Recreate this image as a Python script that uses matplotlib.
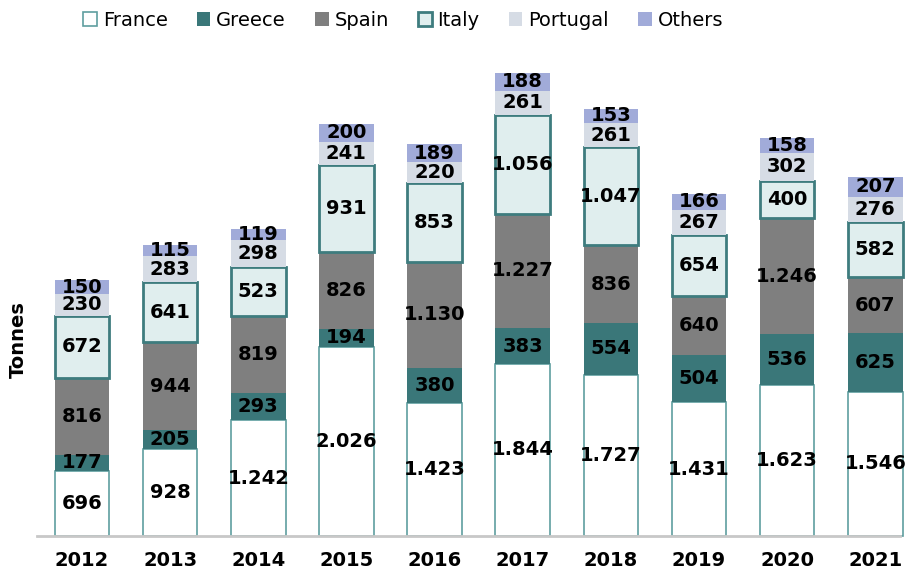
import numpy as np
import matplotlib.pyplot as plt

years = ['2012', '2013', '2014', '2015', '2016', '2017', '2018', '2019', '2020', '2021']
france = [696, 928, 1242, 2026, 1423, 1844, 1727, 1431, 1623, 1546]
greece = [177, 205, 293, 194, 380, 383, 554, 504, 536, 625]
spain = [816, 944, 819, 826, 1130, 1227, 836, 640, 1246, 607]
italy = [672, 641, 523, 931, 853, 1056, 1047, 654, 400, 582]
portugal = [230, 283, 298, 241, 220, 261, 261, 267, 302, 276]
others = [150, 115, 119, 200, 189, 188, 153, 166, 158, 207]

series = [
    ('France', france, 'white', '#5f9ea0', 1.2),
    ('Greece', greece, '#3a7779', '#3a7779', 0),
    ('Spain', spain, '#7f7f7f', '#7f7f7f', 0),
    ('Italy', italy, '#e0eeee', '#3e7c7e', 2.0),
    ('Portugal', portugal, '#d6dce5', '#d6dce5', 0),
    ('Others', others, '#a1abd9', '#a1abd9', 0),
]


def fmt(v):
    return f'{v:,}'.replace(',', '.')


fig = plt.figure(figsize=(9.06, 5.76), dpi=100)
ax = fig.add_axes([37 / 906, 40 / 576, 863 / 906, 504 / 576])

x = np.arange(len(years))
bottom = np.zeros(len(years))
for name, vals, face, edge, lw in series:
    vals = np.array(vals)
    bars = ax.bar(x, vals, width=0.62, bottom=bottom, color=face, edgecolor=edge,
                  linewidth=lw, label=name)
    for b in bars:
        b.set_clip_on(False)
    for xi, b, v in zip(x, bottom, vals):
        ax.text(xi, b + v / 2, fmt(v), ha='center', va='center',
                fontsize=14, fontweight='bold', color='black')
    bottom += vals

ax.set_xlim(-0.51, 9.28)
ax.set_ylim(0, 5400)
ax.set_xticks(x)
ax.set_xticklabels(years, fontsize=14, fontweight='bold')
ax.tick_params(axis='x', length=0, pad=11)
ax.set_yticks([])
for s in ['top', 'right', 'left']:
    ax.spines[s].set_visible(False)
ax.spines['bottom'].set_color('#c8c8c8')
ax.spines['bottom'].set_linewidth(2)
ax.set_ylabel('Tonnes', fontsize=14, fontweight='bold')
ax.yaxis.set_label_coords(-0.011, 0.39)

fig.legend(loc='upper center', bbox_to_anchor=(0.445, 1.012), ncol=6,
           frameon=False, fontsize=14, handlelength=0.7, handleheight=0.7,
           handletextpad=0.3, columnspacing=1.5)

fig.savefig('out.png', dpi=100)
